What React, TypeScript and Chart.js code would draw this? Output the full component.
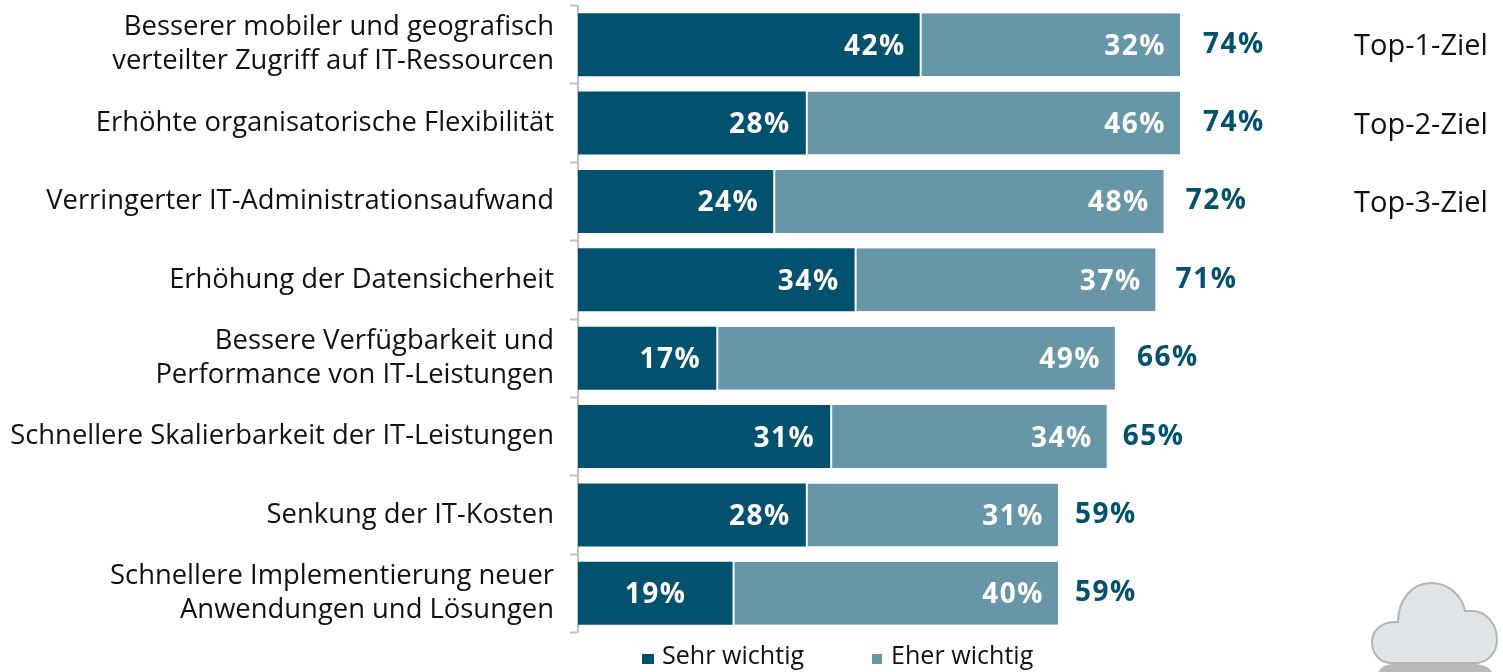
import React, { useEffect, useRef } from "react";
import { Chart, registerables } from "chart.js";

Chart.register(...registerables);

const categories: (string | string[])[] = [
  ["Besserer mobiler und geografisch", "verteilter Zugriff auf IT-Ressourcen"],
  "Erhöhte organisatorische Flexibilität",
  "Verringerter IT-Administrationsaufwand",
  "Erhöhung der Datensicherheit",
  ["Bessere Verfügbarkeit und", "Performance von IT-Leistungen"],
  "Schnellere Skalierbarkeit der IT-Leistungen",
  "Senkung der IT-Kosten",
  ["Schnellere Implementierung neuer", "Anwendungen und Lösungen"],
];
const sehrWichtig = [42, 28, 24, 34, 17, 31, 28, 19];
const eherWichtig = [32, 46, 48, 37, 49, 34, 31, 40];
const totals = [74, 74, 72, 71, 66, 65, 59, 59];
const topGoals = ["Top-1-Ziel", "Top-2-Ziel", "Top-3-Ziel"];
const seriesNames = ["Sehr wichtig", "Eher wichtig"];

const DARK = "#02516e";
const LIGHT = "#6896a9";
const FAMILY = '"Open Sans", sans-serif';

// label placement relative to the bar ends, per row
const innerGaps = [15, 16, 15, 16, 16, 16, 16, 47];
const totalGaps = [23, 23, 22, 20, 22, 16, 17, 17];

const overlay = {
  id: "overlay",
  afterDatasetsDraw(chart: any) {
    const { ctx } = chart;
    const xs = chart.scales.x;
    const ys = chart.scales.y;
    ctx.save();
    ctx.textBaseline = "middle";

    // labels inside the bars and totals
    ctx.font = `700 28px ${FAMILY}`;
    (ctx as any).letterSpacing = "1.5px";
    ctx.fillStyle = "#ffffff";
    ctx.textAlign = "right";
    sehrWichtig.forEach((v, i) => {
      const y = ys.getPixelForValue(i) + 2;
      ctx.fillText(`${v}%`, xs.getPixelForValue(v) - innerGaps[i] + 1, y);
      ctx.fillText(`${eherWichtig[i]}%`, xs.getPixelForValue(v + eherWichtig[i]) - 14, y);
    });
    ctx.textAlign = "left";
    ctx.fillStyle = DARK;
    totals.forEach((v, i) => {
      ctx.fillText(`${v}%`, xs.getPixelForValue(v) + totalGaps[i], ys.getPixelForValue(i));
    });

    // top goal notes
    ctx.font = `400 29px ${FAMILY}`;
    (ctx as any).letterSpacing = "0px";
    ctx.fillStyle = "#111111";
    topGoals.forEach((t, i) => {
      ctx.fillText(t, 1354, ys.getPixelForValue(i) + 2.5);
    });

    // legend
    ctx.font = `400 25.1px ${FAMILY}`;
    [642, 872].forEach((x, i) => {
      ctx.fillStyle = i === 0 ? DARK : LIGHT;
      ctx.fillRect(x, 654, i === 0 ? 12 : 10, 10);
      ctx.fillStyle = "#111111";
      ctx.fillText(seriesNames[i], x + (i === 0 ? 20 : 19), 657);
    });

    // cloud decoration
    ctx.fillStyle = "#b9b9b9";
    ctx.fill(new Path2D("M1378 672 Q1382 665 1392 664 L1476 664 Q1488 665 1492 672 Z"));
    const cloud = new Path2D(
      "M1392 663 C1380 663 1372 654 1372 642 C1372 630 1382 622 1395 622 L1398 622 C1398 600 1412 583 1431 583 C1449 583 1462 596 1465 611 L1472 611 C1487 611 1497 625 1497 640 C1497 653 1487 663 1476 663 Z"
    );
    ctx.fillStyle = "#dfe4e6";
    ctx.fill(cloud);
    ctx.strokeStyle = "#b2b6b8";
    ctx.lineWidth = 2;
    ctx.stroke(cloud);
    ctx.restore();
  },
};

export default function App() {
  const ref = useRef<HTMLCanvasElement>(null);
  useEffect(() => {
    const chart = new Chart(ref.current!, {
      type: "bar",
      data: {
        labels: categories as any,
        datasets: [
          {
            label: seriesNames[0],
            data: sehrWichtig,
            backgroundColor: DARK,
            barThickness: 63,
            inflateAmount: 0,
          } as any,
          {
            label: seriesNames[1],
            data: eherWichtig,
            backgroundColor: LIGHT,
            borderColor: "#ffffff",
            borderWidth: { left: 2, right: 0, top: 0, bottom: 0 },
            borderSkipped: false,
            barThickness: 63,
            inflateAmount: 0,
          } as any,
        ],
      },
      options: {
        indexAxis: "y",
        animation: false,
        responsive: false,
        layout: { padding: { top: 5.5, bottom: 39.5, left: 0, right: 0 } },
        plugins: { legend: { display: false }, tooltip: { enabled: false } },
        scales: {
          x: { display: false, stacked: true, min: 0, max: 113.7 },
          y: {
            stacked: true,
            afterFit(axis: any) {
              axis.width = 578;
              axis.paddingTop = 0;
              axis.paddingBottom = 0;
            },
            border: { color: "#c0c0c0", width: 2 },
            grid: {
              offset: true,
              drawOnChartArea: false,
              drawTicks: true,
              tickLength: 8,
              tickWidth: 2,
              tickColor: "#c0c0c0",
            },
            ticks: {
              padding: 16,
              color: "#111111",
              font: { family: FAMILY, size: 27.4, lineHeight: 1.24 },
              autoSkip: false,
            },
          },
        },
      },
      plugins: [overlay],
    } as any);
    return () => chart.destroy();
  }, []);
  return (
    <canvas
      ref={ref}
      width={1503}
      height={672}
      style={{ position: "absolute", left: 0, top: 0, width: 1503, height: 672 }}
    />
  );
}
